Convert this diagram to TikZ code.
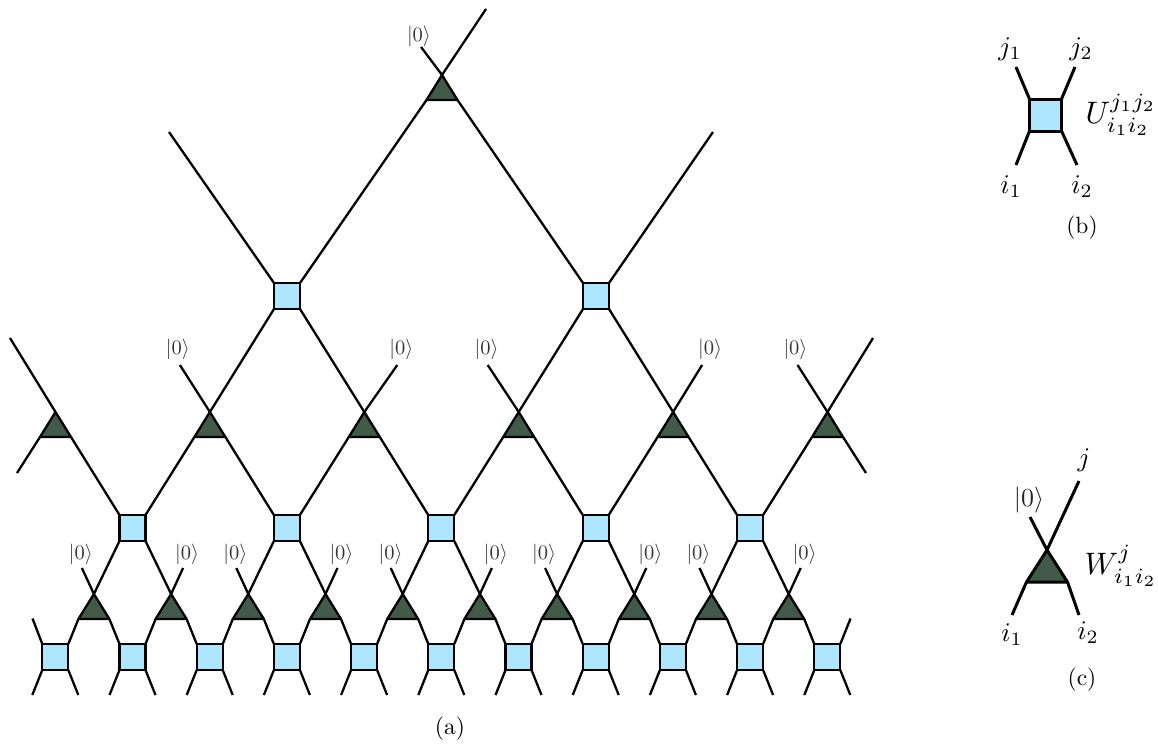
\documentclass[tikz,border=0pt]{standalone}
\usetikzlibrary{shapes.geometric}
\definecolor{sqblue}{HTML}{AEE6FF}
\definecolor{trigreen}{HTML}{415A49}
\tikzset{
  wire/.style={line width=2.3pt,black},
  fat/.style={line width=3pt,black},
  sq/.style={draw,line width=2.3pt,fill=sqblue,rectangle,minimum size=26pt,inner sep=0pt,outer sep=0pt},
  tri/.style={draw,line width=2.3pt,fill=trigreen,isosceles triangle,shape border rotate=90,
     isosceles triangle stretches=true,minimum width=31pt,minimum height=25pt,inner sep=0pt,outer sep=0pt,anchor=apex,line join=round},
  ket/.style={text=black!80,scale=2.05,inner sep=0pt},
  lab/.style={scale=2.7,inner sep=0pt},
  capt/.style={scale=2.35,inner sep=0pt}
}
\begin{document}
\begin{tikzpicture}[x=1pt,y=-1pt]
\useasboundingbox (0,0) rectangle (1158,745);
% bottom row
\foreach \i in {1,...,11}{
  \pgfmathsetmacro{\xx}{55.3+77.2*(\i-1)}
  \node[sq] (b\i) at (\xx,657) {};
  \coordinate (bl\i) at (\xx-23,695);
  \coordinate (br\i) at (\xx+23,695);
  \draw[wire] (b\i.south west) -- (bl\i);
  \draw[wire] (b\i.south east) -- (br\i);
}
\coordinate (e1) at (32.5,618.5);
\coordinate (e2) at (850.5,618.5);
\draw[wire] (b1.north west) -- (e1);
\draw[wire] (b11.north east) -- (e2);
% lower triangles
\foreach \i [evaluate=\i as \n using int(\i+1)] in {1,...,10}{
  \pgfmathsetmacro{\xx}{93.9+77.2*(\i-1)}
  \node[tri] (t\i) at (\xx,594) {};
  \draw[wire] (t\i.left corner) -- (b\i.north east);
  \draw[wire] (t\i.right corner) -- (b\n.north west);
}
% middle squares
\foreach \i in {1,...,5}{
  \pgfmathsetmacro{\xx}{132.5+154.4*(\i-1)}
  \node[sq] (m\i) at (\xx,528) {};
}
\foreach \i/\t/\u in {1/1/2,2/3/4,3/5/6,4/7/8,5/9/10}{
  \draw[wire] (t\t.apex) -- (m\i.south west);
  \draw[wire] (t\u.apex) -- (m\i.south east);
}
% lower kets
\foreach \i/\sx/\lx in {1/-12/-13,2/12/16,3/-12/-13,4/12/16,5/-12/-12,6/12/16,7/-12/-13,8/12/16,9/-12/-13,10/12/16}{
  \coordinate (kc\i) at ([xshift=\sx pt,yshift=26pt]t\i.apex);
  \draw[wire] (t\i.apex) -- (kc\i);
  \node[ket] (kl\i) at ([xshift=\lx pt,yshift=40pt]t\i.apex) {$|0\rangle$};
}
% upper triangles
\foreach \i in {1,...,6}{
  \pgfmathsetmacro{\xx}{55.5+154.4*(\i-1)}
  \node[tri] (u\i) at (\xx,412) {};
}
\foreach \i/\n in {1/1,2/2,3/3,4/4,5/5}{
  \draw[wire] (u\i.right corner) -- (m\n.north west);
}
\foreach \i/\n in {2/1,3/2,4/3,5/4,6/5}{
  \draw[wire] (u\i.left corner) -- (m\n.north east);
}
\coordinate (f1) at (17,473);
\coordinate (f2) at (866,473);
\draw[wire] (u1.left corner) -- (f1);
\draw[wire] (u6.right corner) -- (f2);
\coordinate (f3) at (10,338);
\coordinate (f4) at (873,338);
\draw[wire] (u1.apex) -- (f3);
\draw[wire] (u6.apex) -- (f4);
% top squares
\node[sq] (s1) at (287,296) {};
\node[sq] (s2) at (596,296) {};
\draw[wire] (u2.apex) -- (s1.south west);
\draw[wire] (u3.apex) -- (s1.south east);
\draw[wire] (u4.apex) -- (s2.south west);
\draw[wire] (u5.apex) -- (s2.south east);
% upper kets
\foreach \i/\ex/\lx in {2/-30/-32,3/33/37,4/-31/-32,5/29/37,6/-30/-32}{
  \coordinate (kd\i) at ([xshift=\ex pt,yshift=47pt]u\i.apex);
  \draw[wire] (u\i.apex) -- (kd\i);
  \node[ket] (kk\i) at ([xshift=\lx pt,yshift=63pt]u\i.apex) {$|0\rangle$};
}
% apex
\node[tri] (a) at (442,75) {};
\draw[wire] (a.left corner) -- (s1.north east);
\draw[wire] (a.right corner) -- (s2.north west);
\coordinate (g1) at (169,132);
\coordinate (g2) at (713,132);
\draw[wire] (s1.north west) -- (g1);
\draw[wire] (s2.north east) -- (g2);
\coordinate (g3) at (486,9);
\coordinate (g4) at (421,47);
\draw[wire] (a.apex) -- (g3);
\draw[wire] (a.apex) -- (g4);
\node[ket] (ka) at (419,36) {$|0\rangle$};
\node[capt] (capa) at (450,729) {(a)};
% panel b
\node[sq,line width=3pt,minimum size=32pt] (U) at (1045.5,115) {};
\coordinate (p1) at (1016,67);
\coordinate (p2) at (1075,67);
\coordinate (p3) at (1016,165);
\coordinate (p4) at (1077,165);
\draw[fat] (U.north west) -- (p1);
\draw[fat] (U.north east) -- (p2);
\draw[fat] (U.south west) -- (p3);
\draw[fat] (U.south east) -- (p4);
\node[lab] (lj1) at (1010,49) {$j_1$};
\node[lab] (lj2) at (1081,49) {$j_2$};
\node[lab] (li1) at (1011,187) {$i_1$};
\node[lab] (li2) at (1082,187) {$i_2$};
\node[lab,scale=1.15] (lU) at (1121,115) {$U_{i_1i_2}^{j_1j_2}$};
\node[capt] (capb) at (1082,228) {(b)};
% panel c
\node[tri,line width=3pt,minimum width=41pt,minimum height=32pt] (W) at (1047,550) {};
\coordinate (q1) at (1012,615);
\coordinate (q2) at (1079,615);
\coordinate (q3) at (1079,481);
\coordinate (q4) at (1030,517);
\draw[fat] (W.left corner) -- (q1);
\draw[fat] (W.right corner) -- (q2);
\draw[fat] (W.apex) -- (q3);
\draw[fat] (W.apex) -- (q4);
\node[lab] (lj) at (1084,460) {$j$};
\node[lab,scale=.96,text=black!85] (lk) at (1029,500) {$|0\rangle$};
\node[lab,scale=1.15] (lW) at (1121,566) {$W_{i_1i_2}^{j}$};
\node[lab] (lc1) at (1012,635) {$i_1$};
\node[lab] (lc2) at (1088,633) {$i_2$};
\node[capt] (capc) at (1082,680) {(c)};
\end{tikzpicture}
\end{document}
